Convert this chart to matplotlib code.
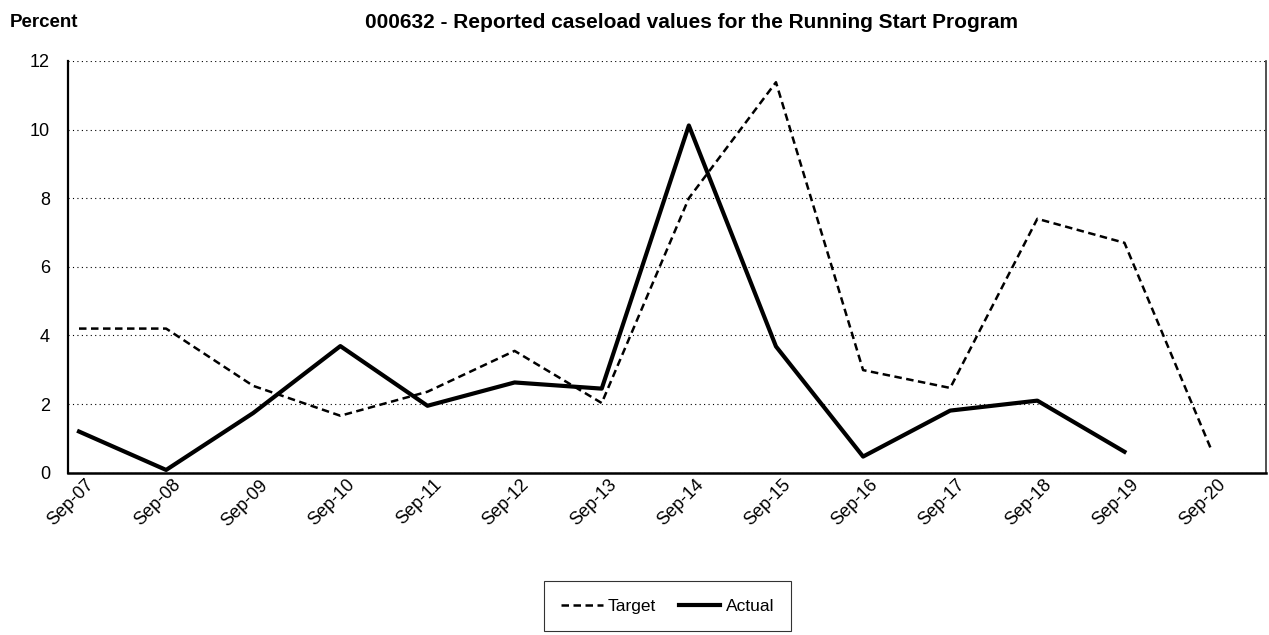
import matplotlib.pyplot as plt
import matplotlib
from matplotlib.transforms import ScaledTranslation

matplotlib.rcParams['font.family'] = ['Liberation Sans', 'DejaVu Sans']

months = ['Sep-07', 'Sep-08', 'Sep-09', 'Sep-10', 'Sep-11', 'Sep-12', 'Sep-13',
          'Sep-14', 'Sep-15', 'Sep-16', 'Sep-17', 'Sep-18', 'Sep-19', 'Sep-20']
target = [4.2, 4.2, 2.53, 1.66, 2.36, 3.55, 2.03, 8.0, 11.38, 2.99, 2.47, 7.4, 6.7, 0.65]
actual = [1.2, 0.08, 1.74, 3.69, 1.95, 2.63, 2.45, 10.12, 3.68, 0.47, 1.81, 2.1, 0.61]

fig = plt.figure(figsize=(12.69, 6.35), dpi=100)
ax = fig.add_axes([0.0536, 0.2556, 0.998 - 0.0536, 0.904 - 0.2556])

x_t = list(range(len(target)))
x_a = list(range(len(actual)))
ax.plot(x_t, target, color='black', lw=1.8, linestyle=(0, (3, 1.8)), label='Target')
ax.plot(x_a, actual, color='black', lw=3.0, label='Actual')

ax.set_ylim(0, 12)
ax.set_yticks(range(0, 13, 2))
ax.set_xlim(-0.126, 13.63)
ax.set_xticks(x_t)
ax.set_xticklabels(months, rotation=45, ha='right', va='center', rotation_mode='anchor')
ax.tick_params(axis='both', length=0, labelsize=13)
ax.tick_params(axis='y', pad=13)
ax.tick_params(axis='x', pad=7)
shift = ScaledTranslation(0.12, 0.0, fig.dpi_scale_trans)
for lab in ax.get_xticklabels():
    lab.set_transform(lab.get_transform() + shift)
ax.grid(axis='y', linestyle=(0, (1, 3)), color='black', lw=0.8)
ax.spines['top'].set_visible(False)
ax.spines['left'].set_linewidth(1.6)
ax.spines['bottom'].set_linewidth(1.8)
ax.spines['right'].set_linewidth(1.2)
ax.spines['right'].set_color('#333333')

fig.text(0.008, 0.965, 'Percent', fontsize=13.5, fontweight='bold', va='center')
fig.text(0.545, 0.965, '000632 - Reported caseload values for the Running Start Program',
         fontsize=15, fontweight='bold', ha='center', va='center')

leg = fig.legend(loc='center', bbox_to_anchor=(0.526, 0.045), ncol=2, fontsize=12.5,
                 frameon=True, fancybox=False, edgecolor='black', handlelength=2.4,
                 columnspacing=1.3, borderpad=1.0, handletextpad=0.3)
leg.get_frame().set_linewidth(0.8)

fig.savefig('out.png', dpi=100)
